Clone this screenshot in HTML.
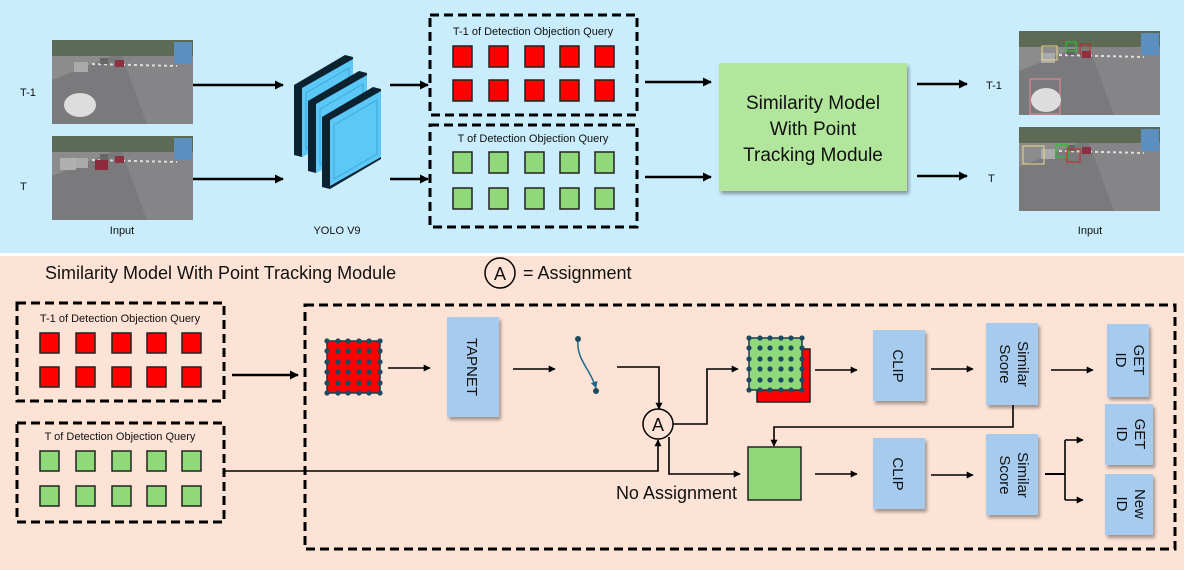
<!DOCTYPE html>
<html><head><meta charset="utf-8"><style>
html,body{margin:0;padding:0;background:#fff}
svg{display:block}
text{font-family:"Liberation Sans",sans-serif;fill:#111}
</style></head><body>
<svg width="1184" height="570" viewBox="0 0 1184 570" xmlns="http://www.w3.org/2000/svg">
<defs>
<marker id="ah" viewBox="0 0 10 10" refX="9" refY="5" markerWidth="7" markerHeight="7" orient="auto" markerUnits="userSpaceOnUse"><path d="M0,0 L10,5 L0,10 z" fill="#000"/></marker>
<marker id="ahb" viewBox="0 0 10 10" refX="9" refY="5" markerWidth="9" markerHeight="9" orient="auto" markerUnits="userSpaceOnUse"><path d="M0,0 L10,5 L0,10 z" fill="#000"/></marker>
<marker id="ahc" viewBox="0 0 10 10" refX="9" refY="5" markerWidth="7" markerHeight="7" orient="auto" markerUnits="userSpaceOnUse"><path d="M0,0 L10,5 L0,10 z" fill="#1f6a8a"/></marker>
<filter id="sh" x="-10%" y="-10%" width="130%" height="130%"><feDropShadow dx="2" dy="3" stdDeviation="1.5" flood-color="#000" flood-opacity="0.35"/></filter>
<g id="photo">
<rect x="0" y="0" width="141" height="84" fill="#7a7a7d"/>
<rect x="0" y="0" width="141" height="16" fill="#5d6a55"/>
<polygon points="0,16 60,16 0,40" fill="#8c8c8c"/>
<polygon points="70,16 141,16 141,84 95,84" fill="#858588"/>
<rect x="122" y="2" width="18" height="22" fill="#5a8fc0"/>
<line x1="40" y1="24" x2="125" y2="26" stroke="#ddd" stroke-width="2" stroke-dasharray="3,3"/>
<rect x="22" y="22" width="14" height="10" fill="#aaa"/>
<rect x="48" y="18" width="8" height="6" fill="#666"/>
<rect x="63" y="20" width="9" height="7" fill="#8a3040"/>
</g>
</defs>

<!-- backgrounds -->
<rect x="0" y="0" width="1184" height="253" fill="#c9edfc"/>
<rect x="0" y="256" width="1184" height="314" fill="#fce3d5"/>

<!-- TOP -->
<use href="#photo" x="52" y="40"/>
<ellipse cx="80" cy="105" rx="16" ry="12" fill="#ddd"/>
<use href="#photo" x="52" y="136"/>
<rect x="60" y="158" width="16" height="12" fill="#b0b0b0"/>
<rect x="95" y="160" width="13" height="10" fill="#8b2a3a"/>
<text x="20" y="96" font-size="11">T-1</text>
<text x="20" y="190" font-size="11">T</text>
<text x="122" y="234" font-size="11" text-anchor="middle">Input</text>

<g stroke="#000" stroke-width="2.5" fill="none">
<line x1="193" y1="85" x2="283" y2="85" marker-end="url(#ahb)"/>
<line x1="193" y1="179" x2="283" y2="179" marker-end="url(#ahb)"/>
<line x1="390" y1="85" x2="428" y2="85" marker-end="url(#ahb)"/>
<line x1="390" y1="179" x2="428" y2="179" marker-end="url(#ahb)"/>
<line x1="645" y1="82" x2="711" y2="82" marker-end="url(#ahb)"/>
<line x1="645" y1="177" x2="711" y2="177" marker-end="url(#ahb)"/>
<line x1="917" y1="84" x2="967" y2="84" marker-end="url(#ahb)"/>
<line x1="917" y1="176" x2="967" y2="176" marker-end="url(#ahb)"/>
</g>

<!-- YOLO slabs -->
<g>
<polygon points="294,85 345,55 353,57 353,127 302,157 294,155" fill="#0b2230"/>
<polygon points="302,88 353,59 353,127 302,157" fill="#5cc8f8"/>
<polygon points="306,93 349,68 349,124 306,149" fill="none" stroke="#3aa8d8" stroke-width="1"/>
<polygon points="308,101 359,71 367,73 367,143 316,173 308,171" fill="#0b2230"/>
<polygon points="316,104 367,75 367,143 316,173" fill="#5cc8f8"/>
<polygon points="320,109 363,84 363,140 320,165" fill="none" stroke="#3aa8d8" stroke-width="1"/>
<polygon points="322,117 373,87 381,89 381,159 330,189 322,187" fill="#0b2230"/>
<polygon points="330,120 381,91 381,157 330,186" fill="#5cc8f8"/>
<polygon points="334,125 377,100 377,154 334,179" fill="none" stroke="#3aa8d8" stroke-width="1"/>
</g>
<text x="337" y="234" font-size="11" text-anchor="middle">YOLO V9</text>

<!-- query boxes top -->
<g fill="none" stroke="#000" stroke-width="3" stroke-dasharray="9,5">
<rect x="430" y="15" width="207" height="100"/>
<rect x="430" y="125" width="207" height="102"/>
</g>
<text x="533" y="35" font-size="11" text-anchor="middle">T-1 of Detection Objection Query</text>
<text x="533" y="142" font-size="11" text-anchor="middle">T of Detection Objection Query</text>
<g stroke="#222" stroke-width="1.5" fill="#f00">
<rect x="453" y="46" width="19" height="21"/><rect x="489" y="46" width="19" height="21"/><rect x="525" y="46" width="19" height="21"/><rect x="560" y="46" width="19" height="21"/><rect x="595" y="46" width="19" height="21"/>
<rect x="453" y="80" width="19" height="21"/><rect x="489" y="80" width="19" height="21"/><rect x="525" y="80" width="19" height="21"/><rect x="560" y="80" width="19" height="21"/><rect x="595" y="80" width="19" height="21"/>
</g>
<g stroke="#222" stroke-width="1.5" fill="#8fd97a">
<rect x="453" y="152" width="19" height="21"/><rect x="489" y="152" width="19" height="21"/><rect x="525" y="152" width="19" height="21"/><rect x="560" y="152" width="19" height="21"/><rect x="595" y="152" width="19" height="21"/>
<rect x="453" y="188" width="19" height="21"/><rect x="489" y="188" width="19" height="21"/><rect x="525" y="188" width="19" height="21"/><rect x="560" y="188" width="19" height="21"/><rect x="595" y="188" width="19" height="21"/>
</g>

<rect x="719" y="63" width="188" height="128" fill="#b2e69d" filter="url(#sh)"/>
<text x="813" y="109" font-size="19" text-anchor="middle">Similarity Model</text>
<text x="813" y="135" font-size="19" text-anchor="middle">With Point</text>
<text x="813" y="161" font-size="19" text-anchor="middle">Tracking Module</text>

<text x="986" y="89" font-size="11">T-1</text>
<text x="988" y="182" font-size="11">T</text>
<use href="#photo" x="1019" y="31"/>
<use href="#photo" x="1019" y="127"/>
<g fill="none" stroke-width="1">
<rect x="1042" y="46" width="15" height="14" stroke="#e8d888"/>
<rect x="1066" y="42" width="10" height="9" stroke="#2c2"/>
<rect x="1080" y="44" width="10" height="10" stroke="#c22"/>
<rect x="1030" y="79" width="30" height="35" stroke="#f08a9a"/>
<rect x="1023" y="146" width="21" height="18" stroke="#e8d888"/>
<rect x="1056" y="145" width="12" height="12" stroke="#2c2"/>
<rect x="1067" y="149" width="13" height="13" stroke="#c22"/>
</g>
<ellipse cx="1046" cy="100" rx="15" ry="12" fill="#ddd"/>
<text x="1090" y="234" font-size="11" text-anchor="middle">Input</text>

<!-- BOTTOM -->
<text x="45" y="279" font-size="18">Similarity Model With Point Tracking Module</text>
<circle cx="500" cy="273" r="15" fill="none" stroke="#000" stroke-width="1.5"/>
<text x="500" y="280" font-size="18" text-anchor="middle">A</text>
<text x="523" y="279" font-size="18">= Assignment</text>

<g fill="none" stroke="#000" stroke-width="3" stroke-dasharray="9,5">
<rect x="17" y="303" width="207" height="98"/>
<rect x="17" y="423" width="207" height="99"/>
<rect x="305" y="305" width="870" height="244"/>
</g>
<text x="120" y="322" font-size="11" text-anchor="middle">T-1 of Detection Objection Query</text>
<text x="120" y="440" font-size="11" text-anchor="middle">T of Detection Objection Query</text>
<g stroke="#222" stroke-width="1.5" fill="#f00">
<rect x="40" y="333" width="19" height="20"/><rect x="76" y="333" width="19" height="20"/><rect x="112" y="333" width="19" height="20"/><rect x="147" y="333" width="19" height="20"/><rect x="182" y="333" width="19" height="20"/>
<rect x="40" y="367" width="19" height="20"/><rect x="76" y="367" width="19" height="20"/><rect x="112" y="367" width="19" height="20"/><rect x="147" y="367" width="19" height="20"/><rect x="182" y="367" width="19" height="20"/>
</g>
<g stroke="#222" stroke-width="1.5" fill="#8fd97a">
<rect x="40" y="451" width="19" height="20"/><rect x="76" y="451" width="19" height="20"/><rect x="112" y="451" width="19" height="20"/><rect x="147" y="451" width="19" height="20"/><rect x="182" y="451" width="19" height="20"/>
<rect x="40" y="486" width="19" height="20"/><rect x="76" y="486" width="19" height="20"/><rect x="112" y="486" width="19" height="20"/><rect x="147" y="486" width="19" height="20"/><rect x="182" y="486" width="19" height="20"/>
</g>

<g stroke="#000" stroke-width="1.6" fill="none">
<line x1="232" y1="375" x2="298" y2="375" stroke-width="2.5" marker-end="url(#ahb)"/>
<polyline points="224,471 658,471 658,440" marker-end="url(#ah)"/>
<line x1="388" y1="368" x2="430" y2="368" marker-end="url(#ah)"/>
<line x1="513" y1="369" x2="555" y2="369" marker-end="url(#ah)"/>
<polyline points="617,367 659,367 659,409" marker-end="url(#ah)"/>
<polyline points="673,424 707,424 707,369 738,369" marker-end="url(#ah)"/>
<polyline points="669,437 669,474 740,474" marker-end="url(#ah)"/>
<line x1="815" y1="370" x2="857" y2="370" marker-end="url(#ah)"/>
<line x1="815" y1="474" x2="857" y2="474" marker-end="url(#ah)"/>
<line x1="931" y1="369" x2="973" y2="369" marker-end="url(#ah)"/>
<line x1="931" y1="475" x2="973" y2="475" marker-end="url(#ah)"/>
<line x1="1051" y1="370" x2="1093" y2="370" marker-end="url(#ah)"/>
<polyline points="1013,405 1013,427 774,427 774,446" marker-end="url(#ah)"/>
<line x1="1045" y1="474" x2="1065" y2="474" stroke-width="2"/>
<polyline points="1083,440 1065,440 1065,500 1083,500" stroke="none"/>
<line x1="1065" y1="440" x2="1065" y2="500"/>
<line x1="1065" y1="440" x2="1083" y2="440" marker-end="url(#ah)"/>
<line x1="1065" y1="500" x2="1083" y2="500" marker-end="url(#ah)"/>
</g>

<!-- red dotted grid -->
<rect x="327" y="341" width="53" height="52" fill="#f00" stroke="#1d3a4a" stroke-width="1.5"/>
<g fill="#1d4a60">
<circle cx="327" cy="341" r="2.6"/><circle cx="338" cy="341" r="2.6"/><circle cx="348" cy="341" r="2.6"/><circle cx="359" cy="341" r="2.6"/><circle cx="369" cy="341" r="2.6"/><circle cx="380" cy="341" r="2.6"/>
<circle cx="327" cy="351" r="2.6"/><circle cx="338" cy="351" r="2.6"/><circle cx="348" cy="351" r="2.6"/><circle cx="359" cy="351" r="2.6"/><circle cx="369" cy="351" r="2.6"/><circle cx="380" cy="351" r="2.6"/>
<circle cx="327" cy="362" r="2.6"/><circle cx="338" cy="362" r="2.6"/><circle cx="348" cy="362" r="2.6"/><circle cx="359" cy="362" r="2.6"/><circle cx="369" cy="362" r="2.6"/><circle cx="380" cy="362" r="2.6"/>
<circle cx="327" cy="372" r="2.6"/><circle cx="338" cy="372" r="2.6"/><circle cx="348" cy="372" r="2.6"/><circle cx="359" cy="372" r="2.6"/><circle cx="369" cy="372" r="2.6"/><circle cx="380" cy="372" r="2.6"/>
<circle cx="327" cy="383" r="2.6"/><circle cx="338" cy="383" r="2.6"/><circle cx="348" cy="383" r="2.6"/><circle cx="359" cy="383" r="2.6"/><circle cx="369" cy="383" r="2.6"/><circle cx="380" cy="383" r="2.6"/>
<circle cx="327" cy="393" r="2.6"/><circle cx="338" cy="393" r="2.6"/><circle cx="348" cy="393" r="2.6"/><circle cx="359" cy="393" r="2.6"/><circle cx="369" cy="393" r="2.6"/><circle cx="380" cy="393" r="2.6"/>
</g>

<!-- TAPNET -->
<rect x="447" y="317" width="52" height="100" fill="#a6cbee" filter="url(#sh)"/>
<text transform="translate(467,367) rotate(90)" font-size="15" text-anchor="middle">TAPNET</text>

<!-- curve -->
<path d="M578,339 C576,360 590,368 596,388" fill="none" stroke="#1f6a8a" stroke-width="1.5" marker-end="url(#ahc)"/>
<circle cx="578" cy="339" r="3" fill="#1d4a60"/>
<circle cx="596" cy="391" r="3" fill="#1d4a60"/>

<!-- circle A -->
<circle cx="658" cy="424" r="15" fill="#fce3d5" stroke="#000" stroke-width="1.5"/>
<text x="658" y="431" font-size="18" text-anchor="middle">A</text>

<!-- stacked squares -->
<rect x="757" y="349" width="53" height="53" fill="#f00" stroke="#222" stroke-width="1.5"/>
<rect x="749" y="338" width="53" height="52" fill="#8fd97a" stroke="#1d3a4a" stroke-width="1.5"/>
<g fill="#1d4a60">
<circle cx="749" cy="338" r="2.6"/><circle cx="760" cy="338" r="2.6"/><circle cx="770" cy="338" r="2.6"/><circle cx="781" cy="338" r="2.6"/><circle cx="791" cy="338" r="2.6"/><circle cx="802" cy="338" r="2.6"/>
<circle cx="749" cy="348" r="2.6"/><circle cx="760" cy="348" r="2.6"/><circle cx="770" cy="348" r="2.6"/><circle cx="781" cy="348" r="2.6"/><circle cx="791" cy="348" r="2.6"/><circle cx="802" cy="348" r="2.6"/>
<circle cx="749" cy="359" r="2.6"/><circle cx="760" cy="359" r="2.6"/><circle cx="770" cy="359" r="2.6"/><circle cx="781" cy="359" r="2.6"/><circle cx="791" cy="359" r="2.6"/><circle cx="802" cy="359" r="2.6"/>
<circle cx="749" cy="369" r="2.6"/><circle cx="760" cy="369" r="2.6"/><circle cx="770" cy="369" r="2.6"/><circle cx="781" cy="369" r="2.6"/><circle cx="791" cy="369" r="2.6"/><circle cx="802" cy="369" r="2.6"/>
<circle cx="749" cy="380" r="2.6"/><circle cx="760" cy="380" r="2.6"/><circle cx="770" cy="380" r="2.6"/><circle cx="781" cy="380" r="2.6"/><circle cx="791" cy="380" r="2.6"/><circle cx="802" cy="380" r="2.6"/>
<circle cx="749" cy="390" r="2.6"/><circle cx="760" cy="390" r="2.6"/><circle cx="770" cy="390" r="2.6"/><circle cx="781" cy="390" r="2.6"/><circle cx="791" cy="390" r="2.6"/><circle cx="802" cy="390" r="2.6"/>
</g>

<rect x="748" y="447" width="53" height="53" fill="#8fd97a" stroke="#222" stroke-width="1.5"/>
<text x="737" y="499" font-size="18" text-anchor="end">No Assignment</text>

<!-- CLIP boxes -->
<rect x="873" y="330" width="52" height="71" fill="#a6cbee" filter="url(#sh)"/>
<text transform="translate(893,366) rotate(90)" font-size="15" text-anchor="middle">CLIP</text>
<rect x="873" y="438" width="52" height="71" fill="#a6cbee" filter="url(#sh)"/>
<text transform="translate(893,474) rotate(90)" font-size="15" text-anchor="middle">CLIP</text>

<!-- Similar Score -->
<rect x="986" y="323" width="52" height="82" fill="#a6cbee" filter="url(#sh)"/>
<text transform="translate(1018,364) rotate(90)" font-size="15" text-anchor="middle">Similar</text>
<text transform="translate(1000,364) rotate(90)" font-size="15" text-anchor="middle">Score</text>
<rect x="986" y="434" width="52" height="81" fill="#a6cbee" filter="url(#sh)"/>
<text transform="translate(1018,475) rotate(90)" font-size="15" text-anchor="middle">Similar</text>
<text transform="translate(1000,475) rotate(90)" font-size="15" text-anchor="middle">Score</text>

<!-- ID boxes -->
<rect x="1107" y="324" width="42" height="73" fill="#a6cbee" filter="url(#sh)"/>
<text transform="translate(1134,360) rotate(90)" font-size="15" text-anchor="middle">GET</text>
<text transform="translate(1116,360) rotate(90)" font-size="15" text-anchor="middle">ID</text>
<rect x="1105" y="404" width="48" height="61" fill="#a6cbee" filter="url(#sh)"/>
<text transform="translate(1135,434) rotate(90)" font-size="15" text-anchor="middle">GET</text>
<text transform="translate(1117,434) rotate(90)" font-size="15" text-anchor="middle">ID</text>
<rect x="1105" y="474" width="48" height="61" fill="#a6cbee" filter="url(#sh)"/>
<text transform="translate(1135,504) rotate(90)" font-size="15" text-anchor="middle">New</text>
<text transform="translate(1117,504) rotate(90)" font-size="15" text-anchor="middle">ID</text>
</svg>
</body></html>
